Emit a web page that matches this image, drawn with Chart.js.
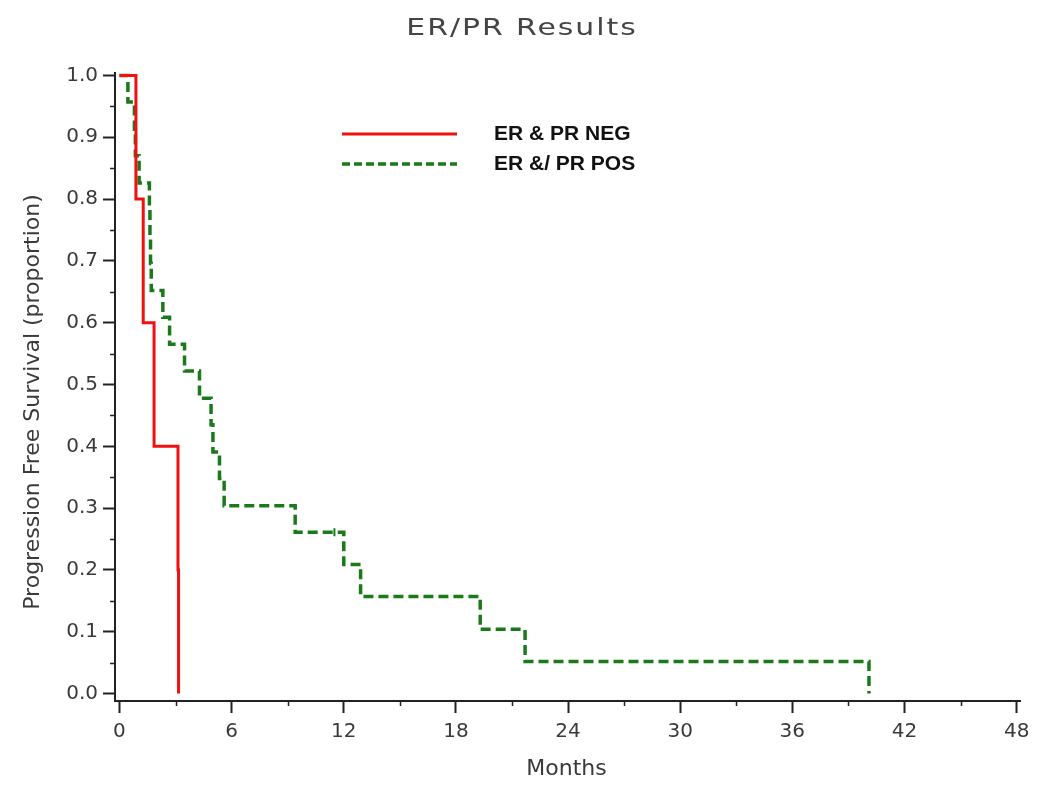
<!DOCTYPE html>
<html><head><meta charset="utf-8">
<script src="https://cdn.jsdelivr.net/npm/chart.js@4/dist/chart.umd.min.js"></script>
<style>html,body{margin:0;padding:0;background:#fff}canvas{display:block}</style>
</head><body>
<canvas id="c" width="1050" height="791"></canvas>
<script>
const chartTitle = 'ER/PR Results';
const xAxisTitle = 'Months';
const yAxisTitle = 'Progression Free Survival (proportion)';
const seriesNames = ['ER & PR NEG', 'ER &/ PR POS'];

const negMonths   = [0, 0.88, 1.27, 1.85, 3.13, 3.16];
const negSurvival = [1.0, 0.8, 0.6, 0.4, 0.2, 0.0];

const posMonths   = [0, 0.45, 0.8, 0.85, 1.05, 1.6, 1.63, 1.66, 1.7, 2.32, 2.68, 3.48, 4.28, 4.9, 5.0, 5.35, 5.6, 9.4, 12.0, 12.9, 19.3, 21.7, 40.1];
const posSurvival = [1.0, 0.957, 0.913, 0.870, 0.826, 0.783, 0.739, 0.696, 0.652, 0.609, 0.565, 0.522, 0.478, 0.435, 0.391, 0.348, 0.304, 0.261, 0.209, 0.157, 0.104, 0.052, 0.0];

const posCensorMonths   = [11.5];
const posCensorSurvival = [0.261];

const xTickValues      = [0, 6, 12, 18, 24, 30, 36, 42, 48];
const xMinorTickValues = [3, 9, 15, 21, 27, 33, 39, 45];
const yTickValues      = [0.0, 0.1, 0.2, 0.3, 0.4, 0.5, 0.6, 0.7, 0.8, 0.9, 1.0];
const yMinorTickValues = [0.05, 0.15, 0.25, 0.35, 0.45, 0.55, 0.65, 0.75, 0.85, 0.95];

const RED = '#f01010';
const GREEN = '#1a7a1a';
const AXIS = '#222';
const TEXT = '#3a3a3a';

const toPts = (xs, ys) => xs.map((x, i) => ({x: x, y: ys[i]}));

const overlay = {
  id: 'overlay',
  afterDraw(chart) {
    const ctx = chart.ctx;
    const xs = chart.scales.x, ys = chart.scales.y;
    const area = chart.chartArea;
    ctx.save();
    // minor ticks
    ctx.strokeStyle = AXIS; ctx.lineWidth = 1.5;
    xMinorTickValues.forEach(v => {
      const p = Math.round(xs.getPixelForValue(v)) + 0.5;
      ctx.beginPath(); ctx.moveTo(p, area.bottom); ctx.lineTo(p, area.bottom + 5); ctx.stroke();
    });
    yMinorTickValues.forEach(v => {
      const p = Math.round(ys.getPixelForValue(v)) + 0.5;
      ctx.beginPath(); ctx.moveTo(area.left - 5, p); ctx.lineTo(area.left, p); ctx.stroke();
    });
    // chart title (wide face)
    ctx.fillStyle = '#444';
    ctx.font = '23px "DejaVu Sans"';
    ctx.textBaseline = 'alphabetic';
    ctx.textAlign = 'center';
    ctx.save();
    ctx.translate(522, 35);
    ctx.scale(1.3, 1);
    ctx.letterSpacing = '1.5px';
    ctx.fillText(chartTitle, 0, 0);
    ctx.restore();
    // axis titles
    ctx.fillStyle = TEXT;
    ctx.font = '22px "DejaVu Sans"';
    ctx.textBaseline = 'middle';
    ctx.textAlign = 'center';
    ctx.fillText(xAxisTitle, (area.left + area.right) / 2 - 1, 769);
    ctx.save();
    ctx.translate(33, 402);
    ctx.rotate(-Math.PI / 2);
    ctx.fillText(yAxisTitle, 0, 0);
    ctx.restore();
    // legend
    const ds = chart.data.datasets;
    const rows = [134, 164];
    [0, 1].forEach(i => {
      const d = ds[i];
      ctx.save();
      ctx.strokeStyle = d.borderColor;
      ctx.lineWidth = d.borderWidth;
      ctx.setLineDash(i === 1 ? [8, 4] : []);
      ctx.beginPath(); ctx.moveTo(342, rows[i]); ctx.lineTo(457, rows[i]); ctx.stroke();
      ctx.restore();
      ctx.fillStyle = '#111';
      ctx.font = 'bold 21px "Liberation Sans"';
      ctx.textAlign = 'left';
      ctx.textBaseline = 'middle';
      ctx.fillText(d.label, 494, rows[i]);
    });
    ctx.restore();
  }
};

new Chart(document.getElementById('c'), {
  type: 'line',
  data: {
    datasets: [
      {
        label: seriesNames[0],
        data: toPts(negMonths, negSurvival),
        borderColor: RED, backgroundColor: RED,
        borderWidth: 3, stepped: true, pointRadius: 0, fill: false
      },
      {
        label: seriesNames[1],
        data: toPts(posMonths, posSurvival),
        borderColor: GREEN, backgroundColor: GREEN,
        borderWidth: 3.5, borderDash: [10, 5], stepped: true, pointRadius: 0, fill: false
      },
      {
        type: 'scatter',
        label: 'censored',
        data: toPts(posCensorMonths, posCensorSurvival),
        borderColor: GREEN, backgroundColor: GREEN,
        pointStyle: 'line', rotation: 90, pointRadius: 4, borderWidth: 2
      }
    ]
  },
  options: {
    responsive: false,
    devicePixelRatio: 1,
    animation: false,
    events: [],
    layout: { padding: { top: 73, left: 0, right: 30, bottom: 0 } },
    plugins: { legend: { display: false }, title: { display: false }, tooltip: { enabled: false } },
    scales: {
      x: {
        type: 'linear',
        min: -0.24, max: 48.18,
        afterFit: s => { s.height = 90; },
        afterBuildTicks: s => { s.ticks = xTickValues.map(v => ({value: v})); },
        grid: { drawOnChartArea: false, drawTicks: true, tickLength: 12, tickColor: AXIS, tickWidth: 2 },
        border: { display: true, color: AXIS, width: 2 },
        ticks: { color: TEXT, font: { family: 'DejaVu Sans', size: 20 }, padding: 7, maxRotation: 0, autoSkip: false,
                 callback: v => String(v) }
      },
      y: {
        type: 'linear',
        min: -0.012, max: 1.004,
        afterFit: s => { s.width = 115; },
        afterBuildTicks: s => { s.ticks = yTickValues.map(v => ({value: v})); },
        grid: { drawOnChartArea: false, drawTicks: true, tickLength: 12, tickColor: AXIS, tickWidth: 2 },
        border: { display: true, color: AXIS, width: 2 },
        ticks: { color: TEXT, font: { family: 'DejaVu Sans', size: 20 }, padding: 5, autoSkip: false,
                 callback: v => Number(v).toFixed(1) }
      }
    }
  },
  plugins: [overlay]
});
</script>
</body></html>
